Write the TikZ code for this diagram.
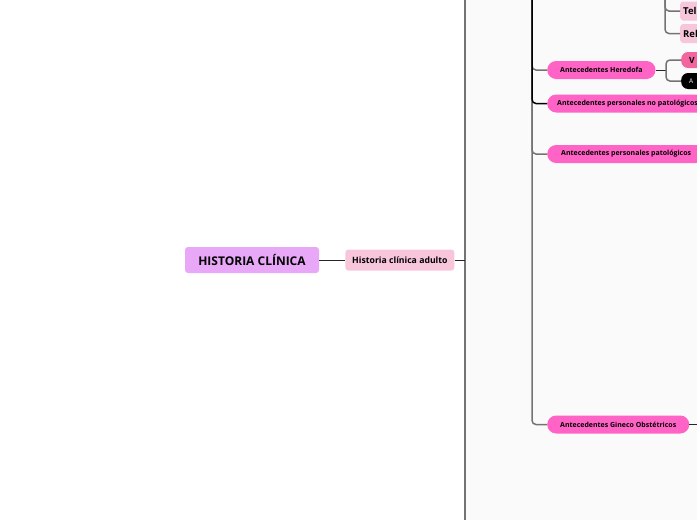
\documentclass[tikz,border=0pt]{standalone}
\usepackage{fontspec}
\setmainfont{Open Sans}
\usetikzlibrary{positioning}
\definecolor{lila}{HTML}{E9A8F7}
\definecolor{rosaclaro}{HTML}{F8C6DA}
\definecolor{rosa}{HTML}{FF63C6}
\definecolor{rosaosc}{HTML}{F2659E}

\begin{document}
\begin{tikzpicture}[x=1pt, y=-1pt,
    raiz/.style={fill=lila, rounded corners=3pt, minimum width=134pt, minimum height=26pt, font=\bfseries\fontsize{12}{14}\selectfont},
    tema/.style={fill=rosaclaro, rounded corners=3pt, minimum height=21pt, minimum width=109pt, inner xsep=4pt, font=\bfseries\fontsize{8.7}{10}\selectfont},
    rama/.style={fill=rosa, rounded corners=9pt, minimum height=18pt, inner xsep=13pt, anchor=west, font=\bfseries\fontsize{7}{8}\selectfont},
    hoja/.style={fill=rosaclaro, rounded corners=3pt, minimum height=19pt, anchor=west, inner xsep=3pt, text width=40pt, align=left, font=\bfseries\fontsize{9.5}{11}\selectfont},
    pildora/.style={rounded corners=7pt, minimum height=16pt, anchor=west, inner xsep=8pt, text width=30pt, align=left},
    linea/.style={line width=1pt, black!85},
    tronco/.style={line width=1.5pt, black!55, rounded corners=4pt}
]
\useasboundingbox (0,0) rectangle (697,520);
\clip (0,0) rectangle (697,520);
\fill[black!2] (465,0) rectangle (697,520);

% Nodo raiz
\node[raiz] (historia) at (252,260) {HISTORIA CLÍNICA};
\node[tema, right=26pt of historia] (adulto) {Historia clínica adulto};

% Ramas de antecedentes
\node[rama] (hered) at (547,70) {Antecedentes Heredofa};
\node[rama, inner xsep=10pt] (nopat) at (547,103.5) {Antecedentes personales no patológicos};
\node[rama, inner xsep=14pt] (pat) at (547,154) {Antecedentes personales patológicos};
\node[rama] (gineco) at (547,424.5) {Antecedentes Gineco Obstétricos};

% Hojas
\node[hoja] (tel) at (680,11) {Tel};
\node[hoja] (rel) at (680,33.5) {Rel};
\node[pildora, fill=rosaosc, font=\bfseries\fontsize{8.5}{9}\selectfont] (v) at (681,60) {V};
\node[pildora, fill=black, text=white, font=\fontsize{6.5}{7}\selectfont] (a) at (681,81) {A};

% Puntos de union
\coordinate (tr1a) at (465,0);
\coordinate (tr1b) at (465,520);
\coordinate (tr1m) at (465,260);
\coordinate (tr2) at (532,0);
\coordinate (tr3) at (665,0);
\coordinate (hb) at (666,70);
\coordinate (gsal) at (697,424.5);

% Conexiones
\draw[linea] (historia) -- (adulto);
\draw[tronco] (tr1a) -- (tr1b);
\draw[linea] (adulto.east) -- (tr1m);
\draw[tronco] (tr2) |- (gineco.west);
\draw[tronco] (tr2) |- (pat.west);
\draw[tronco] (tr2) |- (hered.west);
\draw[tronco, black] (tr2) |- (nopat.west);
\draw[linea] (gineco.east) -- (gsal);
\draw[linea] (hered.east) -- (hb);
\draw[tronco] (hb) |- (v.west);
\draw[tronco] (hb) |- (a.west);
\draw[tronco] (tr3) |- (tel.west);
\draw[tronco] (tr3) |- (rel.west);

\end{tikzpicture}
\end{document}
